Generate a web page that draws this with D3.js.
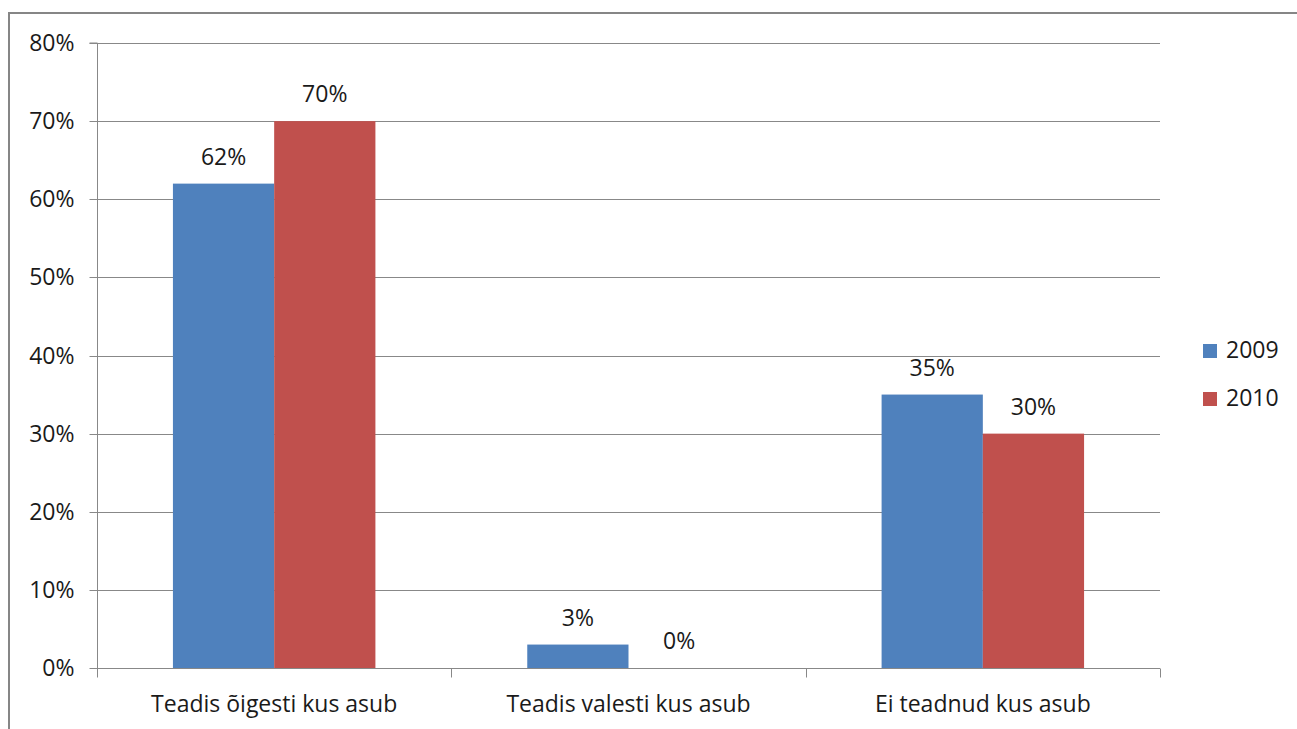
<!DOCTYPE html>
<html><head><meta charset="utf-8">
<script src="https://cdn.jsdelivr.net/npm/d3@7"></script>
<style>body{margin:0;background:#fff;} svg{display:block;}</style>
</head><body>
<svg id="c" width="1297" height="729"></svg>
<script>
const categories = ["Teadis õigesti kus asub", "Teadis valesti kus asub", "Ei teadnud kus asub"];
const seriesNames = ["2009", "2010"];
const values2009 = [0.62, 0.03, 0.35];
const values2010 = [0.70, 0.00, 0.30];
const yTicks = [0, 0.1, 0.2, 0.3, 0.4, 0.5, 0.6, 0.7, 0.8];
const colors = ["#4F81BD", "#C0504D"];

(function () {
const svg = d3.select("#c");
const font = "'Open Sans', sans-serif";
const fs = 23;

// frame
svg.append("rect").attr("x", 9).attr("y", 13).attr("width", 1300).attr("height", 730)
  .attr("fill", "none").attr("stroke", "#868686").attr("stroke-width", 2);

const pL = 97, pR = 1160, pT = 43, pB = 668;
const x0 = d3.scaleBand().domain(categories).range([pL, pR]).paddingInner(0).paddingOuter(0);
const x1 = d3.scaleBand().domain(seriesNames).range([0, x0.bandwidth()]).paddingInner(0).paddingOuter(0.75);
const y = d3.scaleLinear().domain([0, 0.8]).range([pB, pT]);

// gridlines
svg.append("g").selectAll("line").data(yTicks.filter(d => d > 0)).join("line")
  .attr("x1", pL).attr("x2", pR)
  .attr("y1", d => Math.round(y(d)) + 0.5).attr("y2", d => Math.round(y(d)) + 0.5)
  .attr("stroke", "#888888").attr("stroke-width", 1);

// bars
const series = [values2009, values2010];
const g = svg.append("g");
categories.forEach((c, i) => {
  seriesNames.forEach((s, j) => {
    const v = series[j][i];
    g.append("rect")
      .attr("x", x0(c) + x1(s)).attr("width", x1.bandwidth())
      .attr("y", y(v)).attr("height", pB - y(v))
      .attr("fill", colors[j]);
    g.append("text")
      .attr("x", x0(c) + x1(s) + x1.bandwidth() / 2)
      .attr("y", y(v) - 19)
      .attr("text-anchor", "middle")
      .attr("font-family", font).attr("font-size", fs).attr("fill", "#1a1a1a")
      .text(d3.format(".0%")(v));
  });
});

// y axis
const yAxis = d3.axisLeft(y).tickValues(yTicks).tickFormat(d3.format(".0%")).tickSize(8).tickPadding(15);
const ya = svg.append("g").attr("transform", `translate(${pL + 0.5},0)`).call(yAxis);
ya.select(".domain").attr("stroke", "#888888").attr("d", `M-8,${pT}H0V${pB}`);
ya.selectAll(".tick line").attr("stroke", "#888888");
ya.selectAll(".tick").attr("transform", d => `translate(0,${Math.round(y(d)) + 0.5})`);
ya.selectAll("text").attr("font-family", font).attr("font-size", fs).attr("fill", "#1a1a1a");

// x axis
const xAxis = d3.axisBottom(x0).tickSize(0).tickPadding(27);
const xa = svg.append("g").attr("transform", `translate(0,${pB + 0.5})`).call(xAxis);
xa.select(".domain").attr("stroke", "#888888").attr("d", `M${pL},0H${pR}`);
xa.selectAll("text").attr("font-family", font).attr("font-size", fs).attr("fill", "#1a1a1a");
const bounds = [pL, ...categories.map(c => x0(c) + x0.bandwidth())];
xa.append("g").selectAll("line").data(bounds).join("line")
  .attr("x1", d => Math.round(d) + 0.5).attr("x2", d => Math.round(d) + 0.5)
  .attr("y1", 0).attr("y2", 9).attr("stroke", "#888888");

// legend
const lg = svg.append("g").attr("transform", "translate(1203,344)");
seriesNames.forEach((s, j) => {
  lg.append("rect").attr("x", 0).attr("y", j * 48).attr("width", 14).attr("height", 14).attr("fill", colors[j]);
  lg.append("text").attr("x", 23).attr("y", j * 48 + 14).attr("font-family", font).attr("font-size", fs)
    .attr("fill", "#1a1a1a").text(s);
});
})();
</script>
</body></html>
